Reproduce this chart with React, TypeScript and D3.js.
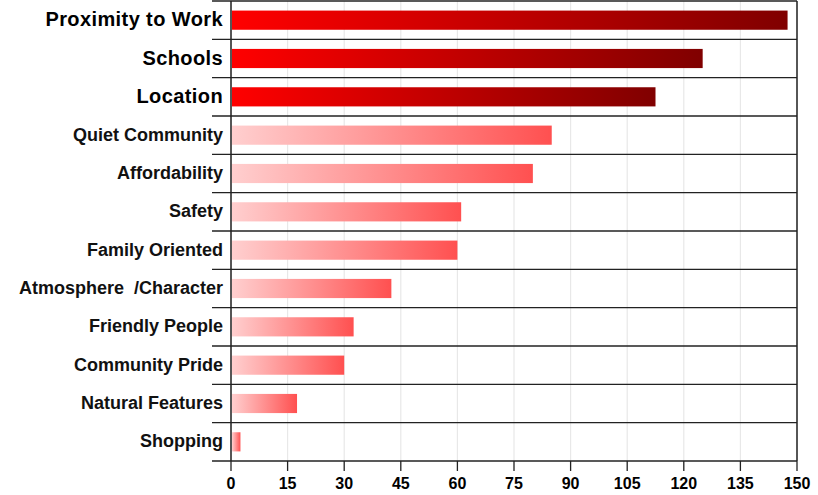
import React from "react";
import * as d3 from "d3";

const categories = [
  "Proximity to Work",
  "Schools",
  "Location",
  "Quiet Community",
  "Affordability",
  "Safety",
  "Family Oriented",
  "Atmosphere  /Character",
  "Friendly People",
  "Community Pride",
  "Natural Features",
  "Shopping",
];
const values = [147.5, 125, 112.5, 85, 80, 61, 60, 42.5, 32.5, 30, 17.5, 2.5];
const highlighted = [true, true, true, false, false, false, false, false, false, false, false, false];
const xTicks = [0, 15, 30, 45, 60, 75, 90, 105, 120, 135, 150];

const W = 818;
const H = 495;
const M = { left: 231, right: 21, top: 1, bottom: 34 };

export default function App() {
  const x = d3.scaleLinear().domain([0, 150]).range([M.left, W - M.right]);
  const y = d3
    .scaleBand<string>()
    .domain(categories)
    .range([M.top, H - M.bottom])
    .paddingInner(0.5)
    .paddingOuter(0.25);
  const step = y.step();
  const bounds = d3.range(categories.length + 1).map((i) => M.top + i * step);
  const font = "'Liberation Sans', Arial, sans-serif";
  return (
    <svg
      width={W}
      height={H}
      style={{ position: "absolute", left: 0, top: 0, background: "#fff" }}
    >
      <defs>
        <linearGradient id="gHi" x1="0" x2="1" y1="0" y2="0">
          <stop offset="0" stopColor="#ff0000" />
          <stop offset="1" stopColor="#800000" />
        </linearGradient>
        <linearGradient id="gLo" x1="0" x2="1" y1="0" y2="0">
          <stop offset="0" stopColor="#ffcfcf" />
          <stop offset="1" stopColor="#ff5050" />
        </linearGradient>
      </defs>
      {xTicks.map((t) => (
        <line
          key={"g" + t}
          x1={x(t)}
          x2={x(t)}
          y1={M.top}
          y2={H - M.bottom}
          stroke="#e8e8e8"
          strokeWidth={1.2}
        />
      ))}
      {bounds.map((b, i) => (
        <line
          key={"s" + i}
          x1={M.left - 19}
          x2={W - M.right}
          y1={b}
          y2={b}
          stroke="#222"
          strokeWidth={1.3}
        />
      ))}
      {categories.map((c, i) => (
        <rect
          key={"b" + c}
          x={x(0) + 1}
          y={y(c)!}
          width={x(values[i]) - x(0) - 1}
          height={y.bandwidth()}
          fill={highlighted[i] ? "url(#gHi)" : "url(#gLo)"}
        />
      ))}
      <line x1={x(0)} x2={x(0)} y1={M.top} y2={H - M.bottom} stroke="#222" strokeWidth={1.5} />
      <line
        x1={W - M.right}
        x2={W - M.right}
        y1={M.top}
        y2={H - M.bottom}
        stroke="#222"
        strokeWidth={1.5}
      />
      {xTicks.map((t) => (
        <g key={"t" + t}>
          <line
            x1={x(t)}
            x2={x(t)}
            y1={H - M.bottom}
            y2={H - M.bottom + 10}
            stroke="#222"
            strokeWidth={1.3}
          />
          <text
            x={x(t)}
            y={H - M.bottom + 28}
            textAnchor="middle"
            fontFamily={font}
            fontWeight="bold"
            fontSize={16}
            fill="#000"
          >
            {t}
          </text>
        </g>
      ))}
      {categories.map((c, i) => (
        <text
          key={"l" + c}
          x={223}
          y={y(c)! + y.bandwidth() / 2}
          dy="0.31em"
          textAnchor="end"
          fontFamily={font}
          fontWeight="bold"
          fontSize={highlighted[i] ? 20 : 18}
          letterSpacing={highlighted[i] ? 0.4 : 0}
          fill={highlighted[i] ? "#000" : "#111"}
          style={{ whiteSpace: "pre" }}
        >
          {c}
        </text>
      ))}
    </svg>
  );
}
